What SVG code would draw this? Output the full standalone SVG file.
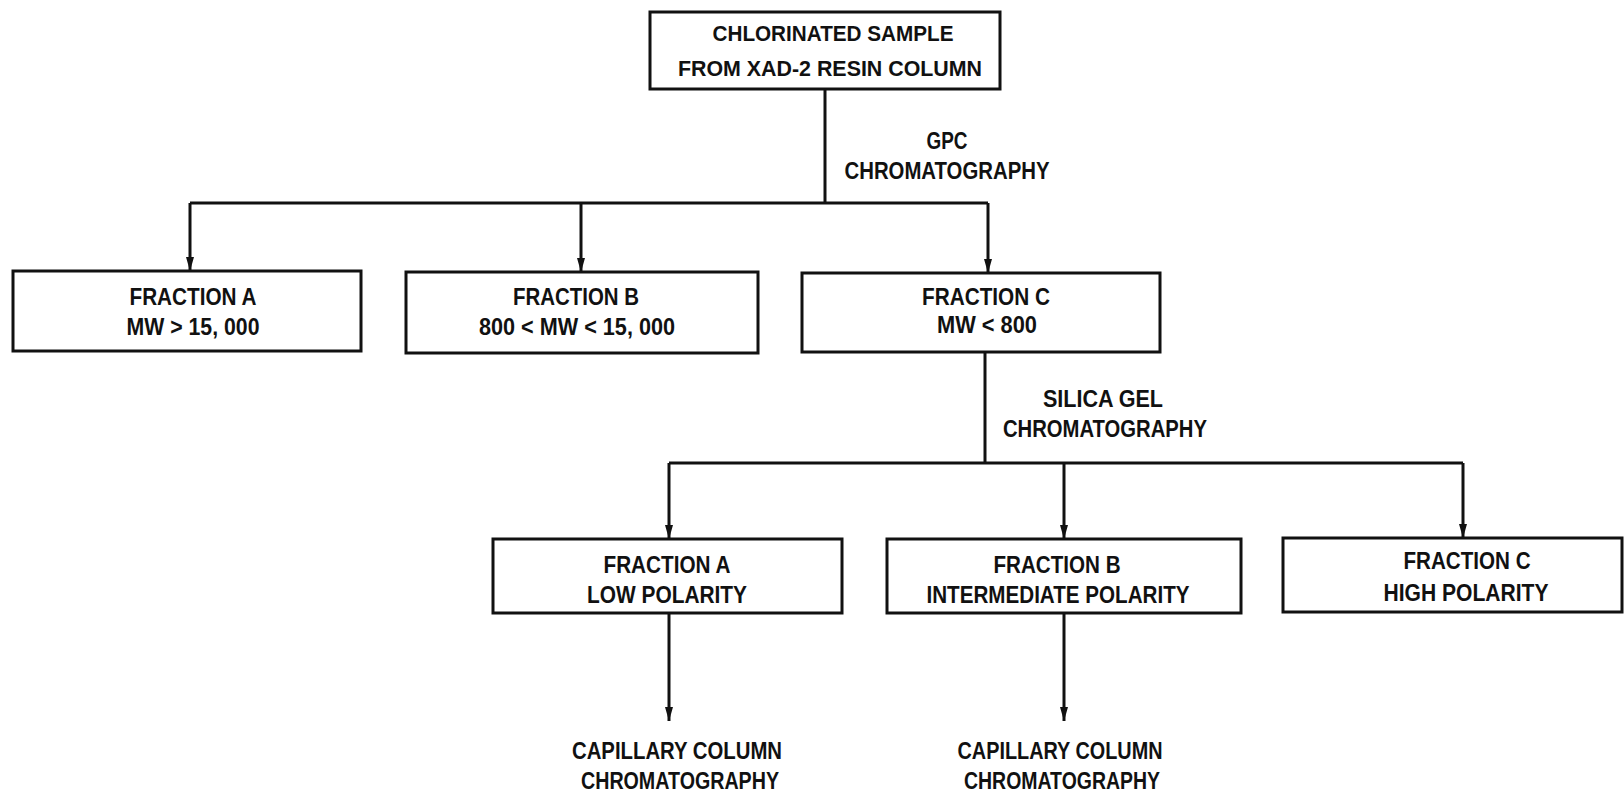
<svg xmlns="http://www.w3.org/2000/svg" width="1624" height="796" viewBox="0 0 1624 796">
<style>
.box{fill:none;stroke:#111;stroke-width:3}
.c{fill:none;stroke:#111;stroke-width:3}
.t{font-family:"Liberation Sans",Arial,sans-serif;font-weight:bold;font-size:24px;fill:#111;text-anchor:middle}
.s{font-size:22px}
</style>
<defs>
<marker id="ah" viewBox="0 0 14 8" refX="14" refY="4" markerWidth="14" markerHeight="8" markerUnits="userSpaceOnUse" orient="auto">
<path d="M0,0 L14,4 L0,8 z" fill="#111"/>
</marker>
</defs>
<rect width="1624" height="796" fill="#fff"/>
<g id="connectors">
<path class="c" d="M825 89 V203"/>
<path class="c" d="M190 203 H988"/>
<path class="c" d="M190 203 V271" marker-end="url(#ah)"/>
<path class="c" d="M581 203 V272" marker-end="url(#ah)"/>
<path class="c" d="M988 203 V273" marker-end="url(#ah)"/>
<path class="c" d="M985 352 V463"/>
<path class="c" d="M669 463 H1463"/>
<path class="c" d="M669 463 V539" marker-end="url(#ah)"/>
<path class="c" d="M1064 463 V539" marker-end="url(#ah)"/>
<path class="c" d="M1463 463 V538" marker-end="url(#ah)"/>
<path class="c" d="M669 613 V721" marker-end="url(#ah)"/>
<path class="c" d="M1064 613 V721" marker-end="url(#ah)"/>
</g>
<g id="label-gpc">
<text class="t" x="947" y="149" textLength="41" lengthAdjust="spacingAndGlyphs">GPC</text>
<text class="t" x="947" y="179" textLength="205" lengthAdjust="spacingAndGlyphs">CHROMATOGRAPHY</text>
</g>
<g id="label-silica">
<text class="t" x="1103" y="407" textLength="120" lengthAdjust="spacingAndGlyphs">SILICA GEL</text>
<text class="t" x="1105" y="437" textLength="204" lengthAdjust="spacingAndGlyphs">CHROMATOGRAPHY</text>
</g>
<g id="sample">
<rect class="box" x="650" y="12" width="350" height="77"/>
<text class="t s" x="833" y="41" textLength="241" lengthAdjust="spacingAndGlyphs">CHLORINATED SAMPLE</text>
<text class="t s" x="830" y="76" textLength="304" lengthAdjust="spacingAndGlyphs">FROM XAD-2 RESIN COLUMN</text>
</g>
<g id="gpc-fraction-a">
<rect class="box" x="13" y="271" width="348" height="80"/>
<text class="t" x="193" y="305" textLength="127" lengthAdjust="spacingAndGlyphs">FRACTION A</text>
<text class="t" x="193" y="335" textLength="133" lengthAdjust="spacingAndGlyphs">MW &gt; 15, 000</text>
</g>
<g id="gpc-fraction-b">
<rect class="box" x="406" y="272" width="352" height="81"/>
<text class="t" x="576" y="305" textLength="126" lengthAdjust="spacingAndGlyphs">FRACTION B</text>
<text class="t" x="577" y="335" textLength="196" lengthAdjust="spacingAndGlyphs">800 &lt; MW &lt; 15, 000</text>
</g>
<g id="gpc-fraction-c">
<rect class="box" x="802" y="273" width="358" height="79"/>
<text class="t" x="986" y="305" textLength="128" lengthAdjust="spacingAndGlyphs">FRACTION C</text>
<text class="t" x="987" y="333" textLength="100" lengthAdjust="spacingAndGlyphs">MW &lt; 800</text>
</g>
<g id="silica-fraction-a">
<rect class="box" x="493" y="539" width="349" height="74"/>
<text class="t" x="667" y="573" textLength="127" lengthAdjust="spacingAndGlyphs">FRACTION A</text>
<text class="t" x="667" y="603" textLength="160" lengthAdjust="spacingAndGlyphs">LOW POLARITY</text>
</g>
<g id="silica-fraction-b">
<rect class="box" x="887" y="539" width="354" height="74"/>
<text class="t" x="1057" y="573" textLength="127" lengthAdjust="spacingAndGlyphs">FRACTION B</text>
<text class="t" x="1058" y="603" textLength="263" lengthAdjust="spacingAndGlyphs">INTERMEDIATE POLARITY</text>
</g>
<g id="silica-fraction-c">
<rect class="box" x="1283" y="538" width="339" height="74"/>
<text class="t" x="1467" y="569" textLength="127" lengthAdjust="spacingAndGlyphs">FRACTION C</text>
<text class="t" x="1466" y="601" textLength="165" lengthAdjust="spacingAndGlyphs">HIGH POLARITY</text>
</g>
<g id="capillary-a">
<text class="t" x="677" y="759" textLength="210" lengthAdjust="spacingAndGlyphs">CAPILLARY COLUMN</text>
<text class="t" x="680" y="789" textLength="198" lengthAdjust="spacingAndGlyphs">CHROMATOGRAPHY</text>
</g>
<g id="capillary-b">
<text class="t" x="1060" y="759" textLength="205" lengthAdjust="spacingAndGlyphs">CAPILLARY COLUMN</text>
<text class="t" x="1062" y="789" textLength="196" lengthAdjust="spacingAndGlyphs">CHROMATOGRAPHY</text>
</g>
</svg>
